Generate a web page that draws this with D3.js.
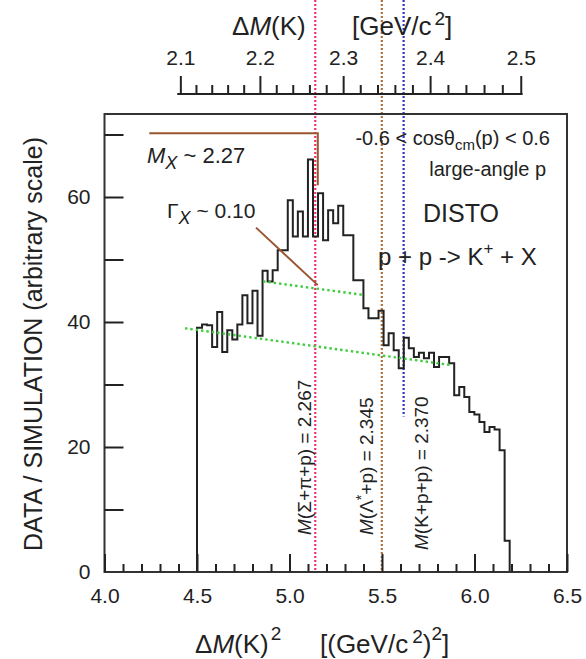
<!DOCTYPE html>
<html>
<head>
<meta charset="utf-8">
<script src="https://cdn.jsdelivr.net/npm/d3@7"></script>
<style>
  body { margin: 0; background: #fff; }
  text { font-family: "Liberation Sans", Arial, Helvetica, sans-serif; fill: #222; }
</style>
</head>
<body>
<svg id="chart" width="586" height="659"></svg>
<script>
// ---- data ----
// histogram of ΔM(K)^2, uniform bins starting at 4.5 (GeV/c^2)^2
const binLow = 4.5;
const binWidth = 0.02726;
const counts = [
  39.1, 39.6, 39.5, 36.0, 41.6, 35.2, 38.7, 37.2, 39.6, 44.3,
  39.8, 45.0, 37.8, 48.2, 46.5, 48.3, 51.5, 51.5, 59.5, 53.7,
  57.7, 53.7, 66.0, 53.7, 60.6, 53.1, 57.9, 55.8, 58.6, 53.9,
  53.9, 46.7, 46.7, 42.2, 40.6, 40.6, 41.8, 36.3, 38.2, 35.5,
  32.6, 37.5, 35.8, 34.4, 35.1, 34.2, 35.1, 32.8, 34.4, 34.4,
  33.4, 28.3, 29.6, 28.0, 25.6, 25.2, 24.0, 22.4, 23.2, 22.8,
  19.5, 5.0
];
const xMajorTicks = [4.0, 4.5, 5.0, 5.5, 6.0, 6.5];
const yTickValues = [10, 20, 30, 40, 50, 60, 70];
const yTickLabels = [0, 20, 40, 60];
const topMajorTicks = [2.1, 2.2, 2.3, 2.4, 2.5];

// threshold masses (GeV/c^2)
const thresholdMasses = [2.267, 2.345, 2.370];
// backgrounds under the peak (x in GeV^2, y in arbitrary units)
const bgUpper = [[4.857, 46.5], [5.408, 44.3]];
const bgLower = [[4.435, 39.0], [5.877, 33.1]];
// M_X and Γ_X markers
const massX = 2.27;
const mxLevel = 70.2, mxStartX = 4.242, mxDropTo = 61.9;
const widthLine = [[4.819, 55.1], [massX * massX, 45.9]];

// ---- layout ----
const svg = d3.select("#chart");
const L = 104.5, R = 567, T = 114, B = 572;
const x = d3.scaleLinear().domain([4.0, 6.5]).range([L, R]);
const y = d3.scaleLinear().domain([0, (B - T) / 6.25]).range([B, T]);
const xTop = d3.scalePow().exponent(2).domain([2, Math.sqrt(6.5)]).range([L, R]);
const ink = "#222";
const tickFont = 21;

// vertical threshold lines
const thrStyle = [
  { color: "#e8336e", bottom: 0 },
  { color: "#b0703a", bottom: 0 },
  { color: "#3434c8", bottom: 24.9 }
];
thresholdMasses.forEach((m, i) => {
  svg.append("line")
    .attr("x1", x(m * m)).attr("x2", x(m * m))
    .attr("y1", 0).attr("y2", y(thrStyle[i].bottom))
    .attr("stroke", thrStyle[i].color)
    .attr("stroke-width", 2.2)
    .attr("stroke-dasharray", "2,2");
});

// histogram outline
const pts = [[binLow, 0]];
counts.forEach((c, i) => {
  pts.push([binLow + i * binWidth, c]);
  pts.push([binLow + (i + 1) * binWidth, c]);
});
pts.push([binLow + counts.length * binWidth, 0]);
svg.append("path")
  .attr("d", d3.line().x(d => x(d[0])).y(d => y(d[1]))(pts))
  .attr("fill", "none").attr("stroke", ink).attr("stroke-width", 2);

// green dotted background lines
[bgUpper, bgLower].forEach(seg => {
  svg.append("path")
    .attr("d", d3.line().x(d => x(d[0])).y(d => y(d[1]))(seg))
    .attr("fill", "none").attr("stroke", "#3ccc3c")
    .attr("stroke-width", 2.4).attr("stroke-dasharray", "2.4,3");
});

// M_X marker (horizontal then down) and width line
const brown = "#9a5630";
svg.append("path")
  .attr("d", d3.line().x(d => x(d[0])).y(d => y(d[1]))(
    [[mxStartX, mxLevel], [massX * massX, mxLevel], [massX * massX, mxDropTo]]))
  .attr("fill", "none").attr("stroke", brown).attr("stroke-width", 2);
svg.append("path")
  .attr("d", d3.line().x(d => x(d[0])).y(d => y(d[1]))(widthLine))
  .attr("fill", "none").attr("stroke", brown).attr("stroke-width", 2);

// frame
svg.append("rect")
  .attr("x", L).attr("y", T).attr("width", R - L).attr("height", B - T)
  .attr("fill", "none").attr("stroke", "#333").attr("stroke-width", 2);

// bottom axis: minor ticks every 0.1, major every 0.5 (inward)
const minorX = d3.range(41, 65).map(v => v / 10).filter(v => Math.abs(v * 2 - Math.round(v * 2)) > 1e-6);
const gB = svg.append("g").attr("transform", `translate(0,${B})`);
gB.call(d3.axisBottom(x).tickValues(minorX).tickSize(-8).tickFormat(""));
gB.call(g => g.append("g").call(d3.axisBottom(x).tickValues(xMajorTicks).tickSize(-18).tickPadding(16).tickFormat(d3.format(".1f"))));
gB.selectAll(".domain").remove();
gB.selectAll("line").attr("stroke", ink).attr("stroke-width", 2);
gB.selectAll("text").attr("font-size", tickFont).attr("font-family", "Liberation Sans, Arial, sans-serif").attr("fill", ink);

// left axis: ticks every 10 (inward), labels every 20
const gL = svg.append("g").attr("transform", `translate(${L},0)`);
gL.call(d3.axisLeft(y).tickValues(yTickValues).tickSize(-19).tickFormat(""));
gL.call(g => g.append("g").call(d3.axisLeft(y).tickValues(yTickLabels).tickSize(0).tickPadding(14)));
gL.selectAll(".domain").remove();
gL.selectAll("line").attr("stroke", ink).attr("stroke-width", 2);
gL.selectAll("text").attr("font-size", tickFont).attr("font-family", "Liberation Sans, Arial, sans-serif").attr("fill", ink);

// top axis in ΔM(K)
const topY = 94;
const topMinor = d3.range(105, 126).map(v => v / 50).filter(v => Math.abs(v * 10 - Math.round(v * 10)) > 1e-6);
const gT = svg.append("g").attr("transform", `translate(0,${topY})`);
gT.call(d3.axisTop(xTop).tickValues(topMinor).tickSize(9).tickFormat(""));
gT.call(g => g.append("g").call(d3.axisTop(xTop).tickValues(topMajorTicks).tickSize(18).tickPadding(11).tickFormat(d3.format(".1f"))));
gT.selectAll(".domain").remove();
gT.selectAll("line").attr("stroke", ink).attr("stroke-width", 2);
gT.selectAll("text").attr("font-size", tickFont).attr("font-family", "Liberation Sans, Arial, sans-serif").attr("fill", ink);
svg.append("line")
  .attr("x1", xTop(2.096)).attr("x2", xTop(2.502))
  .attr("y1", topY).attr("y2", topY)
  .attr("stroke", ink).attr("stroke-width", 2.2);

// axis titles
const titleFont = 26, supFont = 19;
const topTitle = svg.append("text").attr("y", 35).attr("font-size", titleFont);
topTitle.append("tspan").attr("x", 232).text("Δ");
topTitle.append("tspan").attr("font-style", "italic").text("M");
topTitle.append("tspan").text("(K)");
topTitle.append("tspan").attr("x", 352).text("[GeV/c");
topTitle.append("tspan").attr("dx", 3).attr("dy", -10).attr("font-size", supFont).text("2");
topTitle.append("tspan").attr("dy", 10).text("]");

const botTitle = svg.append("text").attr("y", 653).attr("font-size", titleFont);
botTitle.append("tspan").attr("x", 195).text("Δ");
botTitle.append("tspan").attr("font-style", "italic").text("M");
botTitle.append("tspan").text("(K)");
botTitle.append("tspan").attr("dx", 2).attr("dy", -13).attr("font-size", supFont).text("2");
botTitle.append("tspan").attr("dy", 13).attr("x", 320).text("[(GeV/c");
botTitle.append("tspan").attr("dx", 4).attr("dy", -10).attr("font-size", supFont).text("2");
botTitle.append("tspan").attr("dy", 10).text(")");
botTitle.append("tspan").attr("dy", -13).attr("font-size", supFont).text("2");
botTitle.append("tspan").attr("dy", 13).text("]");

svg.append("text")
  .attr("transform", "translate(42,344) rotate(-90)")
  .attr("text-anchor", "middle").attr("font-size", 25)
  .text("DATA / SIMULATION (arbitrary scale)");

// annotations
const cosLabel = svg.append("text").attr("x", 550).attr("y", 145).attr("text-anchor", "end").attr("font-size", 20);
cosLabel.append("tspan").text("-0.6 < cosθ");
cosLabel.append("tspan").attr("dy", 5).attr("font-size", 15).text("cm");
cosLabel.append("tspan").attr("dy", -5).text("(p) < 0.6");

svg.append("text").attr("x", 546).attr("y", 176).attr("text-anchor", "end").attr("font-size", 20).text("large-angle p");
svg.append("text").attr("x", 461).attr("y", 222).attr("text-anchor", "middle").attr("font-size", 25).text("DISTO");

const reac = svg.append("text").attr("x", 378).attr("y", 265).attr("font-size", 24);
reac.append("tspan").text("p + p -> K");
reac.append("tspan").attr("dy", -11).attr("font-size", 17).text("+");
reac.append("tspan").attr("dy", 11).text("  + X");

const mxLabel = svg.append("text").attr("x", 147).attr("y", 163).attr("font-size", 22);
mxLabel.append("tspan").attr("font-style", "italic").text("M");
mxLabel.append("tspan").attr("font-style", "italic").attr("dy", 6).attr("font-size", 18).text("X");
mxLabel.append("tspan").attr("dy", -6).text(" ~ " + massX.toFixed(2));

const gxLabel = svg.append("text").attr("x", 167).attr("y", 218).attr("font-size", 21);
gxLabel.append("tspan").text("Γ");
gxLabel.append("tspan").attr("font-style", "italic").attr("dy", 6).attr("font-size", 18).text("X");
gxLabel.append("tspan").attr("dy", -6).text(" ~ 0.10");

// rotated threshold labels
const thrLabels = [
  { parts: [["M", true], ["(Σ+π+p) = ", false]], bx: 311, by: 535 },
  { parts: [["M", true], ["(Λ", false], ["*", false, true], ["+p) = ", false]], bx: 373, by: 535 },
  { parts: [["M", true], ["(K+p+p) = ", false]], bx: 428, by: 550 }
];
thrLabels.forEach((lab, i) => {
  const t = svg.append("text")
    .attr("transform", `translate(${lab.bx},${lab.by}) rotate(-90)`)
    .attr("font-size", 19);
  lab.parts.forEach(p => {
    const s = t.append("tspan").text(p[0]);
    if (p[1]) s.attr("font-style", "italic");
    if (p[2]) s.attr("dy", -7).attr("font-size", 14);
  });
  if (lab.parts.some(p => p[2])) t.selectAll("tspan").filter((d, j, n) => j === n.length - 1).attr("dy", 7);
  t.append("tspan").text(thresholdMasses[i].toFixed(3));
});
</script>
</body>
</html>
